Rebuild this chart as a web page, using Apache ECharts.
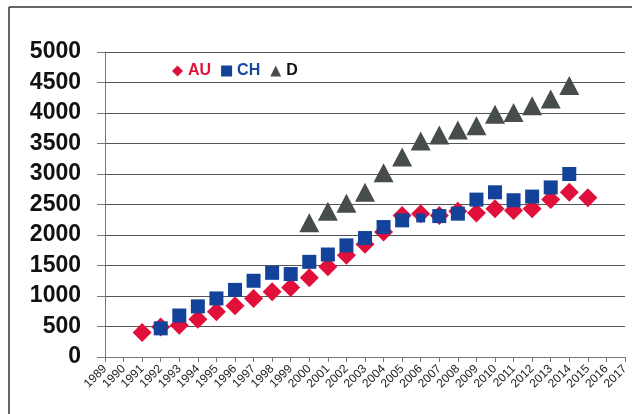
<!DOCTYPE html>
<html>
<head>
<meta charset="utf-8">
<script src="https://cdn.jsdelivr.net/npm/echarts@6/dist/echarts.min.js"></script>
<style>html,body{margin:0;padding:0;background:#fff}#c{width:632px;height:414px}</style>
</head>
<body>
<div id="c"></div>
<script>
const years = ['1989','1990','1991','1992','1993','1994','1995','1996','1997','1998','1999','2000','2001','2002','2003','2004','2005','2006','2007','2008','2009','2010','2011','2012','2013','2014','2015','2016','2017'];
// values per year (null = no data)
const auValues = [null,null,400,490,520,620,740,840,960,1070,1140,1300,1480,1670,1850,2050,2320,2350,2320,2390,2360,2430,2400,2430,2580,2700,2610,null,null];
const chValues = [null,null,null,470,680,830,960,1100,1250,1380,1360,1560,1680,1830,1950,2130,2240,2280,2310,2350,2580,2700,2570,2630,2780,3000,null,null,null];
const dValues  = [null,null,null,null,null,null,null,null,null,null,null,2200,2390,2520,2700,3020,3280,3540,3640,3720,3790,3980,4010,4120,4230,4450,null,null,null];
const yTicks = [0,500,1000,1500,2000,2500,3000,3500,4000,4500,5000];

const chart = echarts.init(document.getElementById('c'), null, {renderer:'canvas'});
const chData = chValues.map((v,i)=> years[i]==='2006' ? {value:v, symbolSize:9} : v);
chart.setOption({
  animation:false,
  backgroundColor:'#fff',
  graphic:[
    {type:'line', shape:{x1:9,y1:7,x2:632,y2:7}, style:{stroke:'#333', lineWidth:1.5}, silent:true},
    {type:'line', shape:{x1:9,y1:7,x2:9,y2:414}, style:{stroke:'#333', lineWidth:1.5}, silent:true}
  ],
  legend:{
    left:167, top:58, itemGap:10, itemWidth:11, itemHeight:11,
    textStyle:{fontFamily:'Liberation Sans, Arial, sans-serif', fontWeight:'bold', fontSize:16},
    data:[
      {name:'AU', textStyle:{color:'#e0103a'}},
      {name:'CH', textStyle:{color:'#1a47a0'}, icon:'rect'},
      {name:'D', textStyle:{color:'#111'}}
    ]
  },
  grid:{left:105, right:7, top:52, bottom:57, containLabel:false},
  xAxis:{
    type:'category', data:years, boundaryGap:false,
    axisLine:{lineStyle:{color:'#777', width:1}},
    axisTick:{show:true, length:5, interval:0, lineStyle:{color:'#777'}},
    axisLabel:{interval:0, rotate:45, fontSize:12, color:'#222', margin:10, fontFamily:'Liberation Sans, Arial, sans-serif'},
    splitLine:{show:false}
  },
  yAxis:{
    type:'value', min:0, max:5000, interval:500,
    axisLine:{show:true, lineStyle:{color:'#777', width:1}},
    axisTick:{show:true, inside:false, length:8, lineStyle:{color:'#777'}},
    axisLabel:{fontSize:23, fontWeight:'bold', color:'#111', margin:24, fontFamily:'Liberation Sans, Arial, sans-serif',
      formatter:(v)=> yTicks.includes(v) ? String(v) : ''},
    splitLine:{show:true, lineStyle:{color:'#555', width:1}}
  },
  series:[
    {name:'AU', type:'scatter', data:auValues, symbol:'diamond', symbolSize:19, itemStyle:{color:'#e0103a', opacity:1}},
    {name:'CH', type:'scatter', data:chData, symbol:'rect', symbolSize:14, itemStyle:{color:'#12429a', opacity:1}},
    {name:'D', type:'scatter', data:dValues, symbol:'triangle', symbolSize:[20,19], itemStyle:{color:'#474c4c', opacity:1}}
  ]
});
</script>
</body>
</html>
